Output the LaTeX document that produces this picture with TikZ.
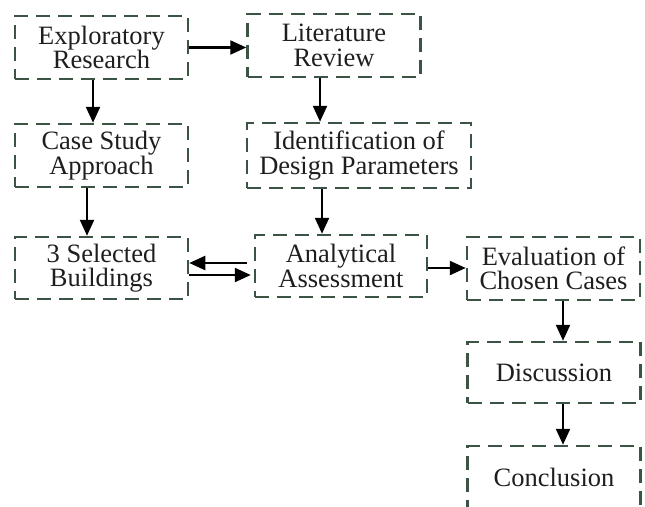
\documentclass[tikz,border=0pt]{standalone}
\usepackage{fontspec}
\setmainfont{Liberation Serif}
\usetikzlibrary{arrows.meta}
\definecolor{boxgreen}{RGB}{59,84,67}
\definecolor{inkgray}{RGB}{30,30,30}

\begin{document}
\begin{tikzpicture}[x=1pt,y=-1pt]

 \tikzset{
    stage/.style={draw=boxgreen, line width=2.5pt, dash pattern=on 14pt off 8pt,
      minimum width=173pt, minimum height=63pt, inner sep=0pt, align=center,
      text=inkgray, font=\fontsize{26.5}{24.5}\selectfont},
    wide stage/.style={stage, minimum width=224pt, minimum height=65pt},
    flow/.style={line width=2.3pt, -{Triangle[length=16pt,width=14pt]}},
  }

  \useasboundingbox (0,0) rectangle (645,506);

  \node[stage] (explore) at (101.5,47.5) {Exploratory\\Research};
  \node[stage] (lit) at (334,45.5) {Literature\\Review};
  \node[stage] (case) at (101.5,155.5) {Case Study\\Approach};
  \node[wide stage] (ident) at (359,155.5) {Identification of\\Design Parameters};
  \node[stage, minimum height=62pt] (sel) at (101.5,268) {3 Selected\\Buildings};
  \node[stage, minimum width=172pt, minimum height=62pt] (anal) at (341,266) {Analytical\\Assessment};
  \node[stage] (eval) at (553.5,268.5) {Evaluation of\\Chosen Cases};
  \node[stage, minimum height=61pt] (disc) at (554,372.5) {Discussion};
  \node[stage, minimum height=62pt] (concl) at (554,477) {Conclusion};

  \draw[flow] (explore.east) -- (explore.east -| lit.west);
  \draw[flow] ([xshift=-8.5pt]explore.south) -- ([xshift=-8.5pt]explore.south |- case.north);
  \draw[flow] ([xshift=-14pt]lit.south) -- ([xshift=-14pt]lit.south |- ident.north);
  \draw[flow] ([xshift=-14.5pt]case.south) -- ([xshift=-14.5pt]case.south |- sel.north);
  \draw[flow] ([xshift=-19pt]ident.south -| anal.north) -- ([xshift=-19pt]anal.north);
  \draw[flow] ([xshift=-7pt,yshift=3pt]anal.west) -- ([yshift=3pt]sel.east |- anal.west);
  \draw[flow] ([yshift=-9pt]sel.east |- anal.west) -- ([xshift=-3pt,yshift=-9pt]anal.west);
  \draw[flow] ([yshift=-2pt]anal.east) -- ([yshift=-2pt]anal.east -| eval.west);
  \draw[flow] ([xshift=9.5pt]eval.south) -- ([xshift=9.5pt]eval.south |- disc.north);
  \draw[flow] ([xshift=9pt]disc.south) -- ([xshift=9pt]disc.south |- concl.north);

\end{tikzpicture}
\end{document}
